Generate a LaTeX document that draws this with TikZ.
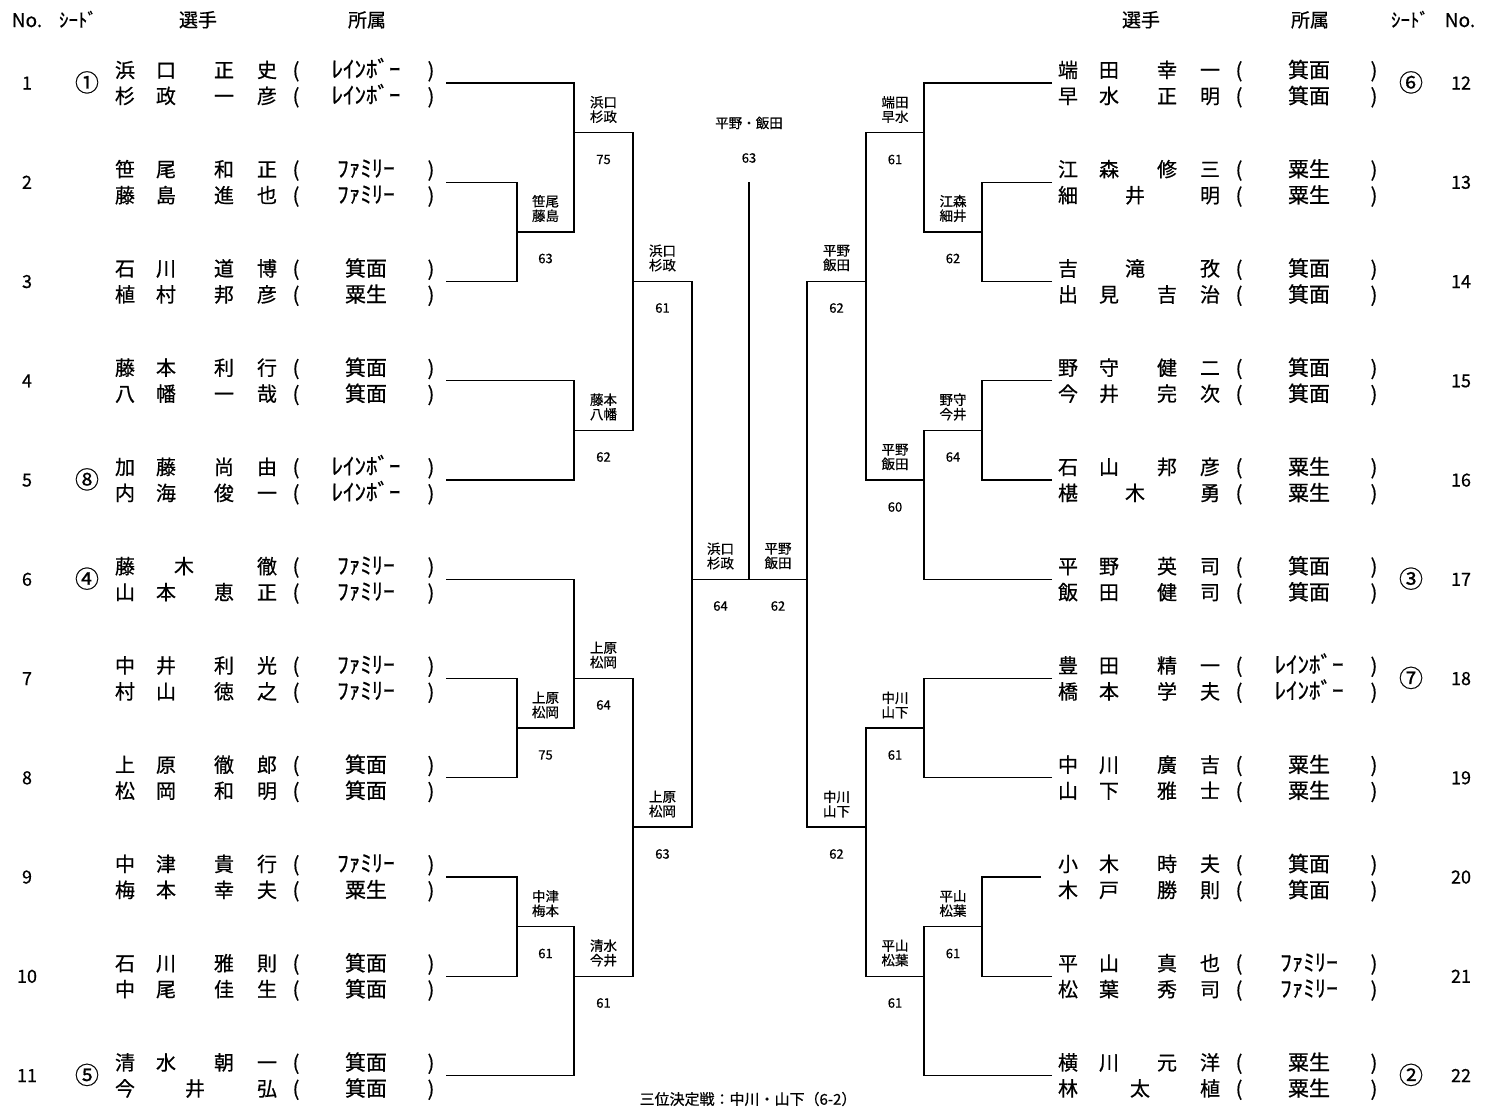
\documentclass[tikz,border=0pt]{standalone}
\usepackage{fontspec}
\setmainfont{Noto Sans CJK JP}[FakeBold=0.6]
\newcommand\pl[8]{%
 \node[nm] (#1-1) at ({125+#2},{#3}) {#4};
 \node[nm] (#1-2) at ({166+#2},{#3}) {#5};
 \node[nm] (#1-3) at ({224+#2},{#3}) {#6};
 \node[nm] (#1-4) at ({267+#2},{#3}) {#7};
 \node[nm] (#1-o) at ({296+#2},{#3}) {(};
 \node[aff] (#1-f) at ({366+#2},{#3}) {#8};
 \node[nm] (#1-c) at ({431+#2},{#3}) {)};
}
\newcommand\plt[8]{%
 \node[nm] (#1-1) at ({125+#2},{#3}) {#4};
 \node[nm] (#1-2) at ({#6+#2},{#3}) {#5};
 \node[nm] (#1-4) at ({267+#2},{#3}) {#7};
 \node[nm] (#1-o) at ({296+#2},{#3}) {(};
 \node[aff] (#1-f) at ({366+#2},{#3}) {#8};
 \node[nm] (#1-c) at ({431+#2},{#3}) {)};
}
\newcommand\hk[1]{{\fontsize{23}{23}\selectfont #1}}
\begin{document}
\begin{tikzpicture}[x=1pt,y=-1pt,
  every node/.style={inner sep=0pt,outer sep=0pt},
  nm/.style={font=\fontsize{20}{20}\selectfont,anchor=base,yshift=-7.5pt},
  aff/.style={font=\fontsize{21}{21}\selectfont,anchor=base,yshift=-7.5pt},
  sd/.style={font=\fontsize{24}{24}\selectfont,anchor=base,yshift=-8.5pt},
  num/.style={font=\fontsize{18}{18}\selectfont,anchor=base,yshift=-6.5pt},
  hdr/.style={font=\fontsize{19}{19}\selectfont,anchor=base,yshift=-7pt},
  lbl/.style={font=\fontsize{13.5}{14.5}\selectfont,align=center,anchor=center},
  sc/.style={font=\fontsize{13}{13}\selectfont,anchor=center},
  br/.style={line width=1.25pt}]
\fill[white] (0,0) rectangle (1493,1109);
\useasboundingbox (0,0) rectangle (1493,1109);

% headers
\node[hdr] (hnoL) at (27,20) {No.};
\node[hdr] (hsdL) at (78,20) {ｼｰﾄﾞ};
\node[hdr] (hplL) at (198,20) {選手};
\node[hdr] (hafL) at (367,20) {所属};
\node[hdr] (hplR) at (1141,20) {選手};
\node[hdr] (hafR) at (1310,20) {所属};
\node[hdr] (hsdR) at (1410,20) {ｼｰﾄﾞ};
\node[hdr] (hnoR) at (1460,20) {No.};

% numbers
\foreach \i/\yy in {1/83,2/182.25,3/281.5,4/380.75,5/480,6/579.25,7/678.5,8/777.75,9/877,10/976.25,11/1075.5}
  \node[num] (nL\i) at (27,\yy) {\i};
\foreach \i/\yy in {12/83,13/182.25,14/281.5,15/380.75,16/480,17/579.25,18/678.5,19/777.75,20/877,21/976.25,22/1075.5}
  \node[num] (nR\i) at (1461,\yy) {\i};

% seeds
\node[sd] (s1) at (87,83) {①};
\node[sd] (s5) at (87,480) {⑧};
\node[sd] (s6) at (87,579.25) {④};
\node[sd] (s11) at (87,1075.5) {⑤};
\node[sd] (s12) at (1411,83) {⑥};
\node[sd] (s17) at (1411,579.25) {③};
\node[sd] (s18) at (1411,678.5) {⑦};
\node[sd] (s22) at (1411,1075.5) {②};

% left players
\pl{p1a}{0}{70}{浜}{口}{正}{史}{\hk{ﾚｲﾝﾎﾞｰ}}
\pl{p1b}{0}{96}{杉}{政}{一}{彦}{\hk{ﾚｲﾝﾎﾞｰ}}
\pl{p2a}{0}{169.25}{笹}{尾}{和}{正}{\hk{ﾌｧﾐﾘｰ}}
\pl{p2b}{0}{195.25}{藤}{島}{進}{也}{\hk{ﾌｧﾐﾘｰ}}
\pl{p3a}{0}{268.5}{石}{川}{道}{博}{箕面}
\pl{p3b}{0}{294.5}{植}{村}{邦}{彦}{粟生}
\pl{p4a}{0}{367.75}{藤}{本}{利}{行}{箕面}
\pl{p4b}{0}{393.75}{八}{幡}{一}{哉}{箕面}
\pl{p5a}{0}{467}{加}{藤}{尚}{由}{\hk{ﾚｲﾝﾎﾞｰ}}
\pl{p5b}{0}{493}{内}{海}{俊}{一}{\hk{ﾚｲﾝﾎﾞｰ}}
\plt{p6a}{0}{566.25}{藤}{木}{184}{徹}{\hk{ﾌｧﾐﾘｰ}}
\pl{p6b}{0}{592.25}{山}{本}{恵}{正}{\hk{ﾌｧﾐﾘｰ}}
\pl{p7a}{0}{665.5}{中}{井}{利}{光}{\hk{ﾌｧﾐﾘｰ}}
\pl{p7b}{0}{691.5}{村}{山}{徳}{之}{\hk{ﾌｧﾐﾘｰ}}
\pl{p8a}{0}{764.75}{上}{原}{徹}{郎}{箕面}
\pl{p8b}{0}{790.75}{松}{岡}{和}{明}{箕面}
\pl{p9a}{0}{864}{中}{津}{貴}{行}{\hk{ﾌｧﾐﾘｰ}}
\pl{p9b}{0}{890}{梅}{本}{幸}{夫}{粟生}
\pl{p10a}{0}{963.25}{石}{川}{雅}{則}{箕面}
\pl{p10b}{0}{989.25}{中}{尾}{佳}{生}{箕面}
\pl{p11a}{0}{1062.5}{清}{水}{朝}{一}{箕面}
\plt{p11b}{0}{1088.5}{今}{井}{195}{弘}{箕面}

% right players
\pl{p12a}{943}{70}{端}{田}{幸}{一}{箕面}
\pl{p12b}{943}{96}{早}{水}{正}{明}{箕面}
\pl{p13a}{943}{169.25}{江}{森}{修}{三}{粟生}
\plt{p13b}{943}{195.25}{細}{井}{192}{明}{粟生}
\plt{p14a}{943}{268.5}{吉}{滝}{192}{孜}{箕面}
\pl{p14b}{943}{294.5}{出}{見}{吉}{治}{箕面}
\pl{p15a}{943}{367.75}{野}{守}{健}{二}{箕面}
\pl{p15b}{943}{393.75}{今}{井}{完}{次}{箕面}
\pl{p16a}{943}{467}{石}{山}{邦}{彦}{粟生}
\plt{p16b}{943}{493}{椹}{木}{192}{勇}{粟生}
\pl{p17a}{943}{566.25}{平}{野}{英}{司}{箕面}
\pl{p17b}{943}{592.25}{飯}{田}{健}{司}{箕面}
\pl{p18a}{943}{665.5}{豊}{田}{精}{一}{\hk{ﾚｲﾝﾎﾞｰ}}
\pl{p18b}{943}{691.5}{橋}{本}{学}{夫}{\hk{ﾚｲﾝﾎﾞｰ}}
\pl{p19a}{943}{764.75}{中}{川}{廣}{吉}{粟生}
\pl{p19b}{943}{790.75}{山}{下}{雅}{士}{粟生}
\pl{p20a}{943}{864}{小}{木}{時}{夫}{箕面}
\pl{p20b}{943}{890}{木}{戸}{勝}{則}{箕面}
\pl{p21a}{943}{963.25}{平}{山}{真}{也}{\hk{ﾌｧﾐﾘｰ}}
\pl{p21b}{943}{989.25}{松}{葉}{秀}{司}{\hk{ﾌｧﾐﾘｰ}}
\pl{p22a}{943}{1062.5}{横}{川}{元}{洋}{粟生}
\plt{p22b}{943}{1088.5}{林}{太}{197}{植}{粟生}

% entry line ends
\foreach \i/\yy in {1/83,2/182.25,3/281.5,4/380.75,5/480,6/579.25,7/678.5,8/777.75,9/877,10/976.25,11/1075.5}
  \coordinate (e\i) at (446,\yy);
\foreach \i/\yy in {12/83,13/182.25,14/281.5,15/380.75,16/480,17/579.25,18/678.5,19/777.75,21/976.25,22/1075.5}
  \coordinate (e\i) at (1052,\yy);
\coordinate (e20) at (1041,877);

% junctions left
\coordinate (A) at (517,231.9);
\coordinate (B) at (574,132.6);
\coordinate (D) at (574,430.4);
\coordinate (C) at (633,281.5);
\coordinate (E) at (692,579.25);
\coordinate (G) at (574,678.5);
\coordinate (H) at (517,728.1);
\coordinate (J) at (517,926.6);
\coordinate (I) at (574,976.25);
\coordinate (F) at (633,827);
% junctions right
\coordinate (Ar) at (982,231.9);
\coordinate (Br) at (924,132.6);
\coordinate (Kr) at (982,430.4);
\coordinate (Dr) at (924,480);
\coordinate (Cr) at (866,281.5);
\coordinate (Er) at (807,579.25);
\coordinate (Gr) at (924,728.1);
\coordinate (Fr) at (866,827);
\coordinate (Jr) at (982,926.6);
\coordinate (Ir) at (924,976.25);
\coordinate (ct) at (749,182);

\draw[br] (e2) -| (A);  \draw[br] (e3) -| (A);
\draw[br] (e1) -| (B);  \draw[br] (A) -| (B);
\draw[br] (e4) -| (D);  \draw[br] (e5) -| (D);
\draw[br] (B) -| (C);   \draw[br] (D) -| (C);
\draw[br] (e6) -| (G);
\draw[br] (e7) -| (H);  \draw[br] (e8) -| (H);
\draw[br] (H) -| (G);
\draw[br] (e9) -| (J);  \draw[br] (e10) -| (J);
\draw[br] (J) -| (I);   \draw[br] (e11) -| (I);
\draw[br] (G) -| (F);   \draw[br] (I) -| (F);
\draw[br] (C) -| (E);   \draw[br] (F) -| (E);
\draw[br] (E) -- (Er);
\draw[br] (ct) -- (ct |- E);

\draw[br] (e13) -| (Ar); \draw[br] (e14) -| (Ar);
\draw[br] (e12) -| (Br); \draw[br] (Ar) -| (Br);
\draw[br] (e15) -| (Kr); \draw[br] (e16) -| (Kr);
\draw[br] (Kr) -| (Dr);  \draw[br] (e17) -| (Dr);
\draw[br] (Br) -| (Cr);  \draw[br] (Dr) -| (Cr);
\draw[br] (Cr) -| (Er);
\draw[br] (e18) -| (Gr); \draw[br] (e19) -| (Gr);
\draw[br] (Gr) -| (Fr);
\draw[br] (e20) -| (Jr); \draw[br] (e21) -| (Jr);
\draw[br] (Jr) -| (Ir);  \draw[br] (e22) -| (Ir);
\draw[br] (Ir) -| (Fr);
\draw[br] (Fr) -| (Er);

% labels left
\node[lbl] (lA) at (545.5,208.5) {笹尾\\藤島};  \node[sc] (sA) at (545.5,258.5) {63};
\node[lbl] (lB) at (603.5,109.5) {浜口\\杉政};  \node[sc] (sB) at (603.5,159.5) {75};
\node[lbl] (lD) at (603.5,407) {藤本\\八幡};    \node[sc] (sD) at (603.5,457) {62};
\node[lbl] (lC) at (662.5,258) {浜口\\杉政};    \node[sc] (sC) at (662.5,308) {61};
\node[lbl] (lH) at (545.5,705) {上原\\松岡};    \node[sc] (sH) at (545.5,755) {75};
\node[lbl] (lG) at (603.5,655) {上原\\松岡};    \node[sc] (sG) at (603.5,705) {64};
\node[lbl] (lJ) at (545.5,903.5) {中津\\梅本};  \node[sc] (sJ) at (545.5,953.5) {61};
\node[lbl] (lI) at (603.5,953) {清水\\今井};    \node[sc] (sI) at (603.5,1003) {61};
\node[lbl] (lF) at (662.5,804) {上原\\松岡};    \node[sc] (sF) at (662.5,854) {63};
\node[lbl] (lE) at (720.5,556) {浜口\\杉政};    \node[sc] (sE) at (720.5,606) {64};
% labels right
\node[lbl] (lEr) at (778,556) {平野\\飯田};     \node[sc] (sEr) at (778,606) {62};
\node[lbl] (lCr) at (836.5,258) {平野\\飯田};   \node[sc] (sCr) at (836.5,308) {62};
\node[lbl] (lBr) at (895,109.5) {端田\\早水};   \node[sc] (sBr) at (895,159.5) {61};
\node[lbl] (lAr) at (953,208.5) {江森\\細井};   \node[sc] (sAr) at (953,258.5) {62};
\node[lbl] (lKr) at (953,407) {野守\\今井};     \node[sc] (sKr) at (953,457) {64};
\node[lbl] (lDr) at (895,457) {平野\\飯田};     \node[sc] (sDr) at (895,507) {60};
\node[lbl] (lGr) at (895,705) {中川\\山下};     \node[sc] (sGr) at (895,755) {61};
\node[lbl] (lFr) at (836.5,804) {中川\\山下};   \node[sc] (sFr) at (836.5,854) {62};
\node[lbl] (lJr) at (953,903.5) {平山\\松葉};   \node[sc] (sJr) at (953,953.5) {61};
\node[lbl] (lIr) at (895,953) {平山\\松葉};     \node[sc] (sIr) at (895,1003) {61};

% champion
\node[lbl] (champ) at (749,123) {平野・飯田};
\node[sc] (champsc) at (749,158) {63};
% third place
\node[lbl,font=\fontsize{15}{15}\selectfont] (third) at (748,1099) {三位決定戦：中川・山下（6-2）};
\end{tikzpicture}
\end{document}
